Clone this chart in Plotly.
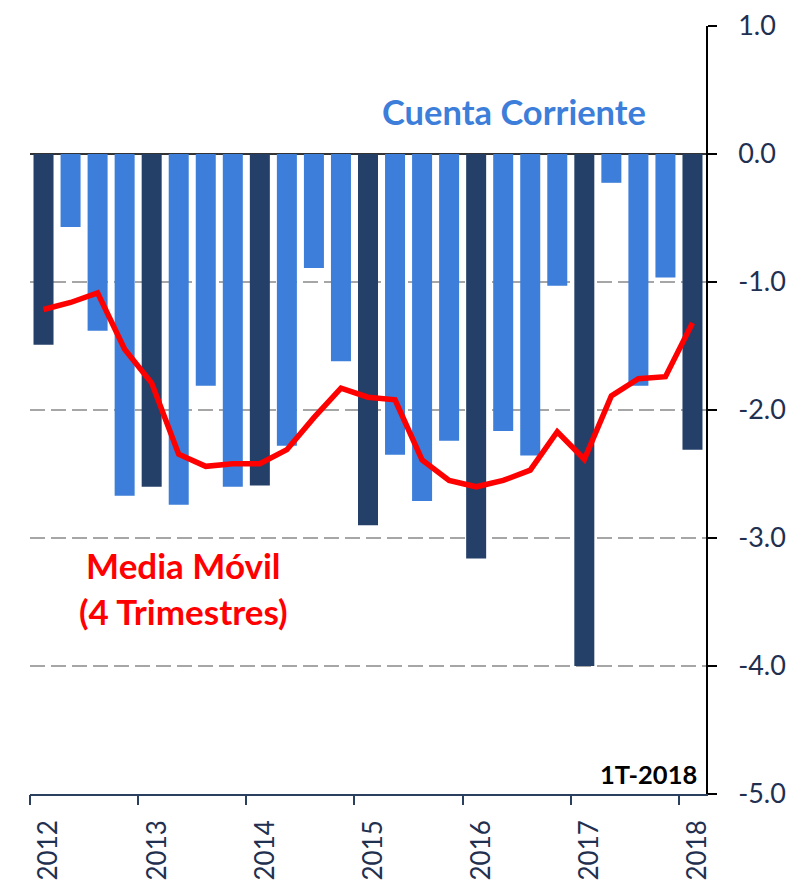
import plotly.graph_objects as go

quarters = ["2012T1","2012T2","2012T3","2012T4","2013T1","2013T2","2013T3","2013T4",
            "2014T1","2014T2","2014T3","2014T4","2015T1","2015T2","2015T3","2015T4",
            "2016T1","2016T2","2016T3","2016T4","2017T1","2017T2","2017T3","2017T4","2018T1"]
cuenta_corriente = [-1.49, -0.57, -1.38, -2.67, -2.60, -2.74, -1.81, -2.60,
                    -2.59, -2.28, -0.89, -1.62, -2.90, -2.35, -2.71, -2.24,
                    -3.16, -2.165, -2.355, -1.03, -4.00, -0.225, -1.81, -0.965, -2.31]
media_movil = [-1.215, -1.16, -1.085, -1.525, -1.79, -2.345, -2.44, -2.42,
               -2.42, -2.31, -2.06, -1.83, -1.90, -1.92, -2.39, -2.55,
               -2.60, -2.55, -2.47, -2.17, -2.385, -1.89, -1.755, -1.74, -1.32]
year_labels = ["2012","2013","2014","2015","2016","2017","2018"]
y_ticks = [1, 0, -1, -2, -3, -4, -5]
y_ticktext = ["1.0", "0.0", "-1.0", "-2.0", "-3.0", "-4.0", "-5.0"]

DARK = "#243F68"
LIGHT = "#3C7ED9"
NAVY = "#1F3050"
FONT = "Lato"

idx = list(range(len(quarters)))
bar_colors = [DARK if q.endswith("T1") else LIGHT for q in quarters]

fig = go.Figure()
fig.add_trace(go.Bar(x=idx, y=cuenta_corriente, marker=dict(color=bar_colors, line=dict(width=0)),
                     hovertext=quarters, showlegend=False))
fig.add_trace(go.Scatter(x=idx, y=media_movil, mode="lines",
                         line=dict(color="#FF0000", width=5.5), showlegend=False))
# invisible trace for the tick-mark axis
fig.add_trace(go.Scatter(x=[idx[0]], y=[cuenta_corriente[0]], xaxis="x2", mode="markers",
                         marker=dict(opacity=0), showlegend=False, hoverinfo="skip"))

year_pos = [i for i, q in enumerate(quarters) if q.endswith("T1")]
tick_bounds = [p - 0.5 for p in year_pos]
label_pos = [p + 0.2 for p in year_pos]

fig.update_layout(
    width=793, height=872,
    margin=dict(l=22, r=95, t=18, b=86),
    plot_bgcolor="white", paper_bgcolor="white",
    bargap=0.26,
    font=dict(family=FONT, color=NAVY),
    xaxis=dict(range=[-0.5, len(quarters) - 0.5], tickmode="array",
               tickvals=label_pos, ticktext=year_labels, tickangle=-90,
               ticks="", showgrid=False, zeroline=False, automargin=False,
               showline=True, linecolor="#2B3F5F", linewidth=1.5,
               tickfont=dict(size=26, color=NAVY, family=FONT), ticklabelstandoff=14),
    xaxis2=dict(range=[-0.5, len(quarters) - 0.5], overlaying="x", side="bottom",
                tickmode="array", tickvals=tick_bounds, ticks="outside", ticklen=10,
                tickwidth=1.5, tickcolor="#2B3F5F", showticklabels=False, automargin=False,
                showgrid=False, zeroline=False, showline=False, anchor="y"),
    yaxis=dict(range=[-5, 1], side="right", tickmode="array", tickvals=y_ticks,
               ticktext=y_ticktext, automargin=False,
               showline=True, linecolor="black", linewidth=1.5,
               ticks="outside", ticklen=9, tickwidth=1.5, tickcolor="black",
               showgrid=True, gridcolor="#A6A6A6", gridwidth=2, griddash="15px,6px",
               zeroline=True, zerolinecolor="#333333", zerolinewidth=1.5,
               tickfont=dict(size=27, color=NAVY, family=FONT), ticklabelstandoff=16),
    annotations=[
        dict(x=17.4, y=0.33, xref="x", yref="y", text="<b>Cuenta Corriente</b>",
             showarrow=False, font=dict(size=34.5, color=LIGHT, family=FONT),
             xanchor="center", yanchor="middle"),
        dict(x=5.16, y=-3.39, xref="x", yref="y", text="<b>Media Móvil<br>(4 Trimestres)</b>",
             showarrow=False, font=dict(size=35, color="#FF0000", family=FONT),
             xanchor="center", yanchor="middle"),
        dict(x=24.25, y=-4.98, xref="x", yref="y", text="<b>1T-2018</b>",
             showarrow=False, font=dict(size=25.5, color="black", family=FONT),
             xanchor="right", yanchor="bottom"),
    ],
)

fig.write_html("out.html")
